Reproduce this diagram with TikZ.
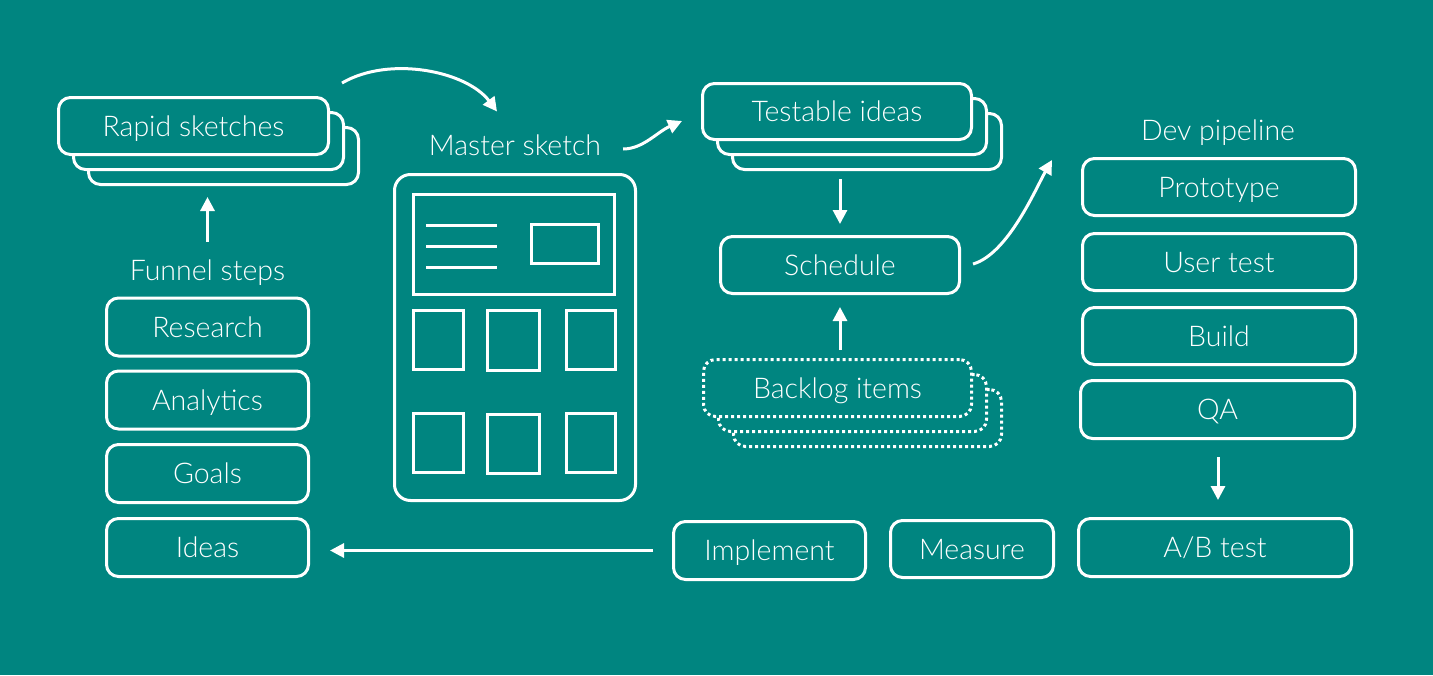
\documentclass[tikz,border=0pt]{standalone}
\usepackage{fontspec}
\setmainfont{Lato}[UprightFont={* Light}]
\usetikzlibrary{arrows.meta}
\definecolor{bg}{RGB}{0,133,128}
\begin{document}
\begin{tikzpicture}[x=1pt,y=-1pt,
  every node/.style={font=\fontsize{28.5}{32}\selectfont, text=white},
  box/.style={draw=white, line width=3pt, rounded corners=12pt, fill=bg,
    text height=20pt, text depth=0pt, inner sep=0pt},
  dotbox/.style={box, dash pattern=on 3pt off 3pt},
  lbl/.style={text height=20pt, text depth=0pt, inner sep=0pt, outer sep=0pt},
  arr/.style={draw=white, line width=3pt, -{Triangle[length=14pt,width=14pt]}},
  sk/.style={draw=white, line width=3pt}]
\fill[bg] (0,0) rectangle (1433,675);
\useasboundingbox (0,0) rectangle (1433,675);

% Rapid sketches stack
\node[box, minimum width=270pt, minimum height=57pt] (rs3) at (223.5,156) {};
\node[box, minimum width=270pt, minimum height=57pt] (rs2) at (208.5,141) {};
\node[box, minimum width=270pt, minimum height=57pt] (rs1) at (193.5,126) {Rapid sketches};

% Funnel steps
\node[lbl] (fs) at (207.5,270) {Funnel steps};
\node[box, minimum width=202pt, minimum height=58pt] (res) at (207.5,327) {Research};
\node[box, minimum width=202pt, minimum height=58pt] (ana) at (207.5,400) {Analytics};
\node[box, minimum width=202pt, minimum height=58pt] (goa) at (207.5,473.5) {Goals};
\node[box, minimum width=202pt, minimum height=58pt] (ide) at (207.5,547.5) {Ideas};

% Master sketch
\node[lbl] (ms) at (515,145.5) {Master sketch};
\node[box, rounded corners=16pt, minimum width=241pt, minimum height=326pt] (msb) at (515,337.5) {};
\draw[sk] (413.5,194.5) rectangle (614.5,294.5);
\draw[sk] (426,225) -- (497,225);
\draw[sk] (426,246) -- (497,246);
\draw[sk] (426,267) -- (497,267);
\draw[sk] (531.5,224.5) rectangle (598.5,263.5);
\draw[sk] (413.5,310.5) rectangle (463.5,369.5);
\draw[sk] (487.5,310.5) rectangle (539.5,370.5);
\draw[sk] (566.5,310.5) rectangle (615.5,369.5);
\draw[sk] (413.5,413.5) rectangle (463.5,472.5);
\draw[sk] (487.5,414) rectangle (539.5,473.5);
\draw[sk] (566.5,413.5) rectangle (615.5,472.5);

% Testable ideas stack
\node[box, minimum width=269pt, minimum height=56pt] (ti3) at (867,141.5) {};
\node[box, minimum width=269pt, minimum height=56pt] (ti2) at (852,126.5) {};
\node[box, minimum width=269pt, minimum height=56pt] (ti1) at (837,111.5) {Testable ideas};

% Schedule
\node[box, minimum width=239pt, minimum height=57pt] (sch) at (840,265) {Schedule};

% Backlog stack
\node[dotbox, minimum width=268pt, minimum height=57pt] (bl3) at (867.5,418) {};
\node[dotbox, minimum width=268pt, minimum height=57pt] (bl2) at (852.5,403) {};
\node[dotbox, minimum width=268pt, minimum height=57pt] (bl1) at (837.5,388) {Backlog items};

% Dev pipeline
\node[lbl] (dp) at (1218,130) {Dev pipeline};
\node[box, minimum width=273pt, minimum height=57pt] (pro) at (1219,187) {Prototype};
\node[box, minimum width=273pt, minimum height=57pt] (ust) at (1219,262) {User test};
\node[box, minimum width=273pt, minimum height=57pt] (bui) at (1219,336) {Build};
\node[box, minimum width=274pt, minimum height=58pt] (qa) at (1217.5,409.5) {QA};
\node[box, minimum width=273pt, minimum height=58pt] (ab) at (1215,547.5) {A/B test};

% Bottom row
\node[box, minimum width=192pt, minimum height=58pt] (imp) at (769.5,550.5) {Implement};
\node[box, minimum width=163pt, minimum height=57pt] (mea) at (972,549) {Measure};

% Connectors
\draw[arr, shorten <=18.5pt, shorten >=11pt] (fs.north) -- (fs.north |- rs3.south);
\draw[arr, shorten <=8pt, shorten >=11pt] (ti3.south -| sch.north) -- (sch.north);
\draw[arr, shorten <=8pt, shorten >=12pt] (bl1.north -| sch.south) -- (sch.south);
\draw[arr, shorten <=17pt, shorten >=17pt] (qa.south -| 1218,0) -- (ab.north -| 1218,0);
\draw[arr, shorten <=19pt, shorten >=20pt] (imp.west) -- (imp.west -| ide.east);

\draw[arr] ([shift={(12,-13)}]rs1.north east) .. controls +(48,-28) and +(-30,-40) .. ([shift={(-18,-24)}]ms.north);
\draw[arr] ([shift={(22,3.5)}]ms.east) .. controls +(20,0) and +(-25,11) .. ([shift={(-19,9.5)}]ti1.west);
\draw[arr] ([shift={(12,-1)}]sch.east) .. controls +(35,-10) and +(-16,28) .. ([shift={(-29,3)}]pro.north west);
\end{tikzpicture}
\end{document}
